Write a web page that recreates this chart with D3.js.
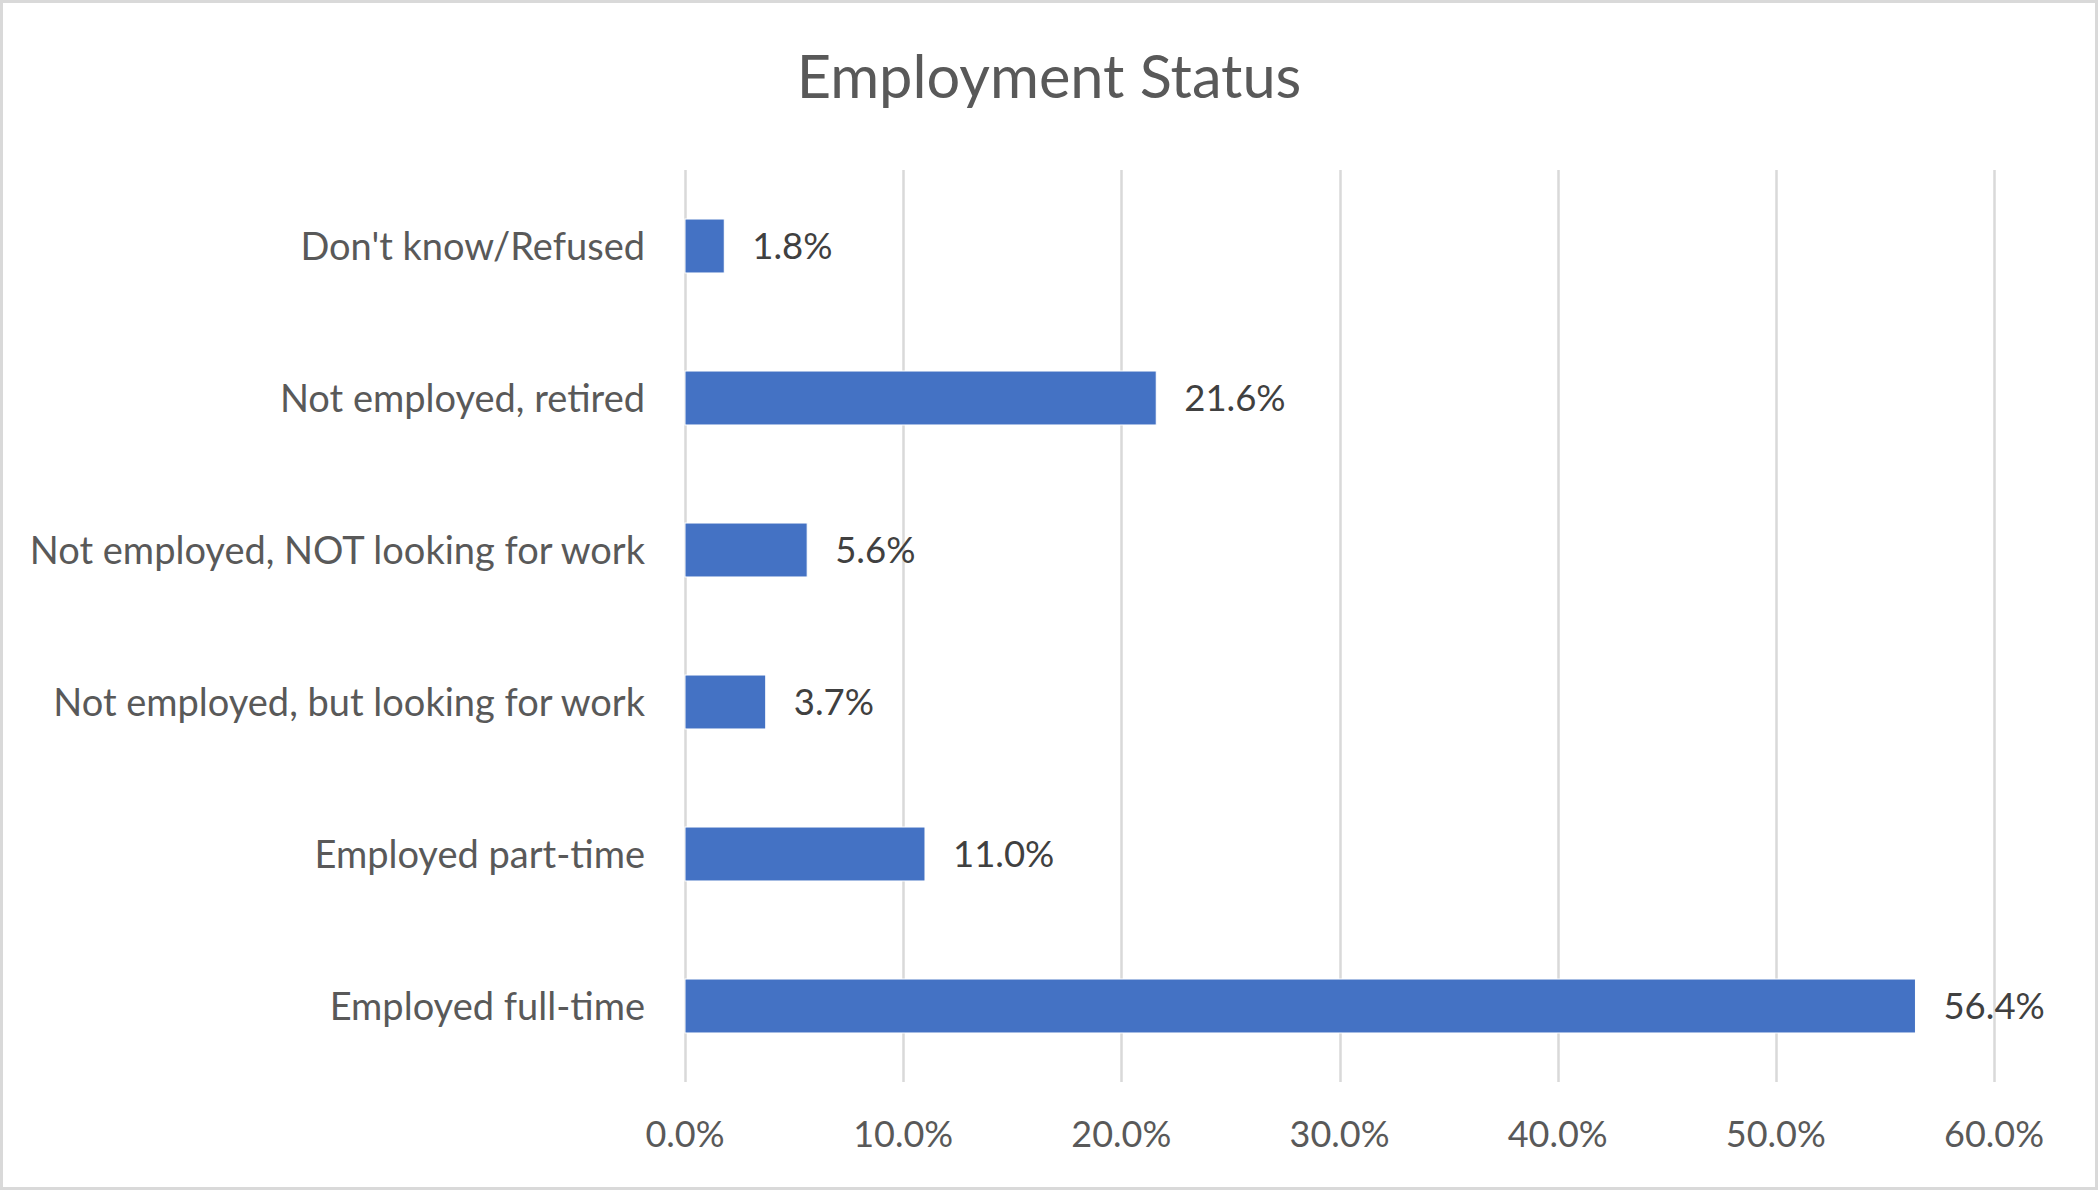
<!DOCTYPE html>
<html>
<head>
<meta charset="utf-8">
<script src="https://cdn.jsdelivr.net/npm/d3@7"></script>
<style>
  html, body { margin: 0; padding: 0; background: #ffffff; }
  svg { display: block; }
</style>
</head>
<body>
<svg id="chart" width="2098" height="1190"></svg>
<script>
const title = "Employment Status";
const categories = [
  "Don't know/Refused",
  "Not employed, retired",
  "Not employed, NOT looking for work",
  "Not employed, but looking for work",
  "Employed part-time",
  "Employed full-time"
];
const values = [1.8, 21.6, 5.6, 3.7, 11.0, 56.4];
const tickValues = [0, 10, 20, 30, 40, 50, 60];

const W = 2098, H = 1190;
const margin = { left: 685, right: 2098 - 1994, top: 170, bottom: 1190 - 1082 };
const FONT = "Lato, 'Noto Sans', sans-serif";

const svg = d3.select("#chart");

// chart border
svg.append("rect")
  .attr("x", 1.5).attr("y", 1.5)
  .attr("width", W - 3).attr("height", H - 3)
  .attr("fill", "#ffffff")
  .attr("stroke", "#D9D9D9")
  .attr("stroke-width", 3);

const x = d3.scaleLinear().domain([0, 60]).range([margin.left, W - margin.right]);
const y = d3.scaleBand().domain(categories).range([margin.top, H - margin.bottom]).paddingInner(0.645).paddingOuter(0.3225);

// gridlines
svg.append("g").selectAll("line").data(tickValues).join("line")
  .attr("x1", d => Math.round(x(d)) + 0.5).attr("x2", d => Math.round(x(d)) + 0.5)
  .attr("y1", margin.top).attr("y2", H - margin.bottom)
  .attr("stroke", "#D9D9D9").attr("stroke-width", 2.5);

// x axis labels
svg.append("g").selectAll("text").data(tickValues).join("text")
  .attr("x", d => x(d)).attr("y", 1147)
  .attr("text-anchor", "middle")
  .attr("font-family", FONT).attr("font-size", 36)
  .attr("fill", "#595959")
  .text(d => d.toFixed(1) + "%");

// bars
svg.append("g").selectAll("rect").data(values).join("rect")
  .attr("x", x(0))
  .attr("y", (d, i) => y(categories[i]))
  .attr("width", d => x(d) - x(0))
  .attr("height", y.bandwidth())
  .attr("fill", "#4472C4")
  .attr("stroke", "#ffffff").attr("stroke-width", 1);

// data labels
svg.append("g").selectAll("text").data(values).join("text")
  .attr("x", d => x(d) + 28)
  .attr("y", (d, i) => y(categories[i]) + y.bandwidth() / 2)
  .attr("dy", "0.36em")
  .attr("font-family", FONT).attr("font-size", 36.5)
  .attr("fill", "#404040")
  .text(d => d.toFixed(1) + "%");

// category labels
svg.append("g").selectAll("text").data(categories).join("text")
  .attr("x", x(0) - 40)
  .attr("y", d => y(d) + y.bandwidth() / 2)
  .attr("dy", "0.36em")
  .attr("text-anchor", "end")
  .attr("font-family", FONT).attr("font-size", 38)
  .attr("fill", "#595959")
  .text(d => d);

// title
svg.append("text")
  .attr("x", 1049).attr("y", 98)
  .attr("text-anchor", "middle")
  .attr("font-family", FONT).attr("font-size", 59.5)
  .attr("fill", "#595959")
  .text(title);
</script>
</body>
</html>
